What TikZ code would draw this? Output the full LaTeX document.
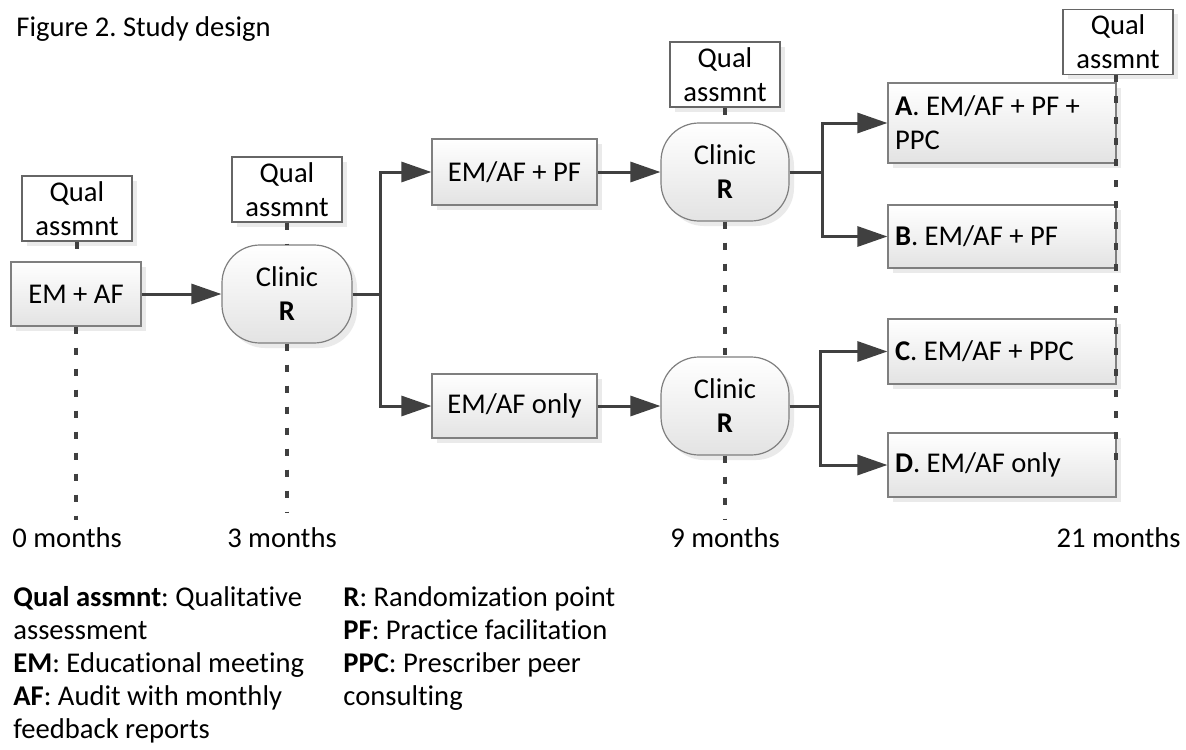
\documentclass[tikz,border=0pt]{standalone}
\usepackage{fontspec}
\setmainfont{Carlito}[Ligatures=NoCommon]
\usetikzlibrary{arrows.meta,shadows}
\definecolor{edge}{HTML}{404040}
\definecolor{bord}{HTML}{7F7F7F}
\tikzset{
  box/.style={draw=bord, line width=0.6pt, top color=white, bottom color=black!11,
    drop shadow={shadow xshift=2.5pt, shadow yshift=-2.5pt, opacity=0.16},
    inner sep=0pt, align=center},
  qbox/.style={box, top color=white, bottom color=white, draw=black!60,
    minimum width=55pt, minimum height=32.5pt},
  clinic/.style={box, rounded corners=19pt, minimum width=65pt, minimum height=49pt},
  armbox/.style={box, align=flush left, text width=107pt, inner xsep=3.5pt, inner ysep=0pt},
  arr/.style={draw=edge, line width=1.5pt, -{Triangle[length=15pt,width=10pt]}},
  tl/.style={draw=edge, line width=1.6pt, dash pattern=on 3.5pt off 7pt},
  lbl/.style={inner sep=0pt},
  legend/.style={lbl, anchor=north west, align=left, font=\fontsize{14.3}{16.5}\selectfont\frenchspacing},
}
\begin{document}
\frenchspacing
\begin{tikzpicture}[x=0.5pt,y=-0.5pt,
  every node/.append style={font=\fontsize{14.3}{17}\selectfont\frenchspacing}]
\useasboundingbox (0,0) rectangle (1186,749);
\fill[white] (0,0) rectangle (1186,749);

\node[lbl, anchor=west] (title) at (16,29) {Figure 2. Study design};

% timeline 0
\node[qbox] (q1) at (77,208.5) {Qual\\assmnt};
\node[box, minimum width=65pt, minimum height=32pt] (em) at (76,294) {EM + AF};
% timeline 3
\node[qbox] (q2) at (287,189.5) {Qual\\assmnt};
\node[clinic] (c1) at (287,294) {Clinic\\\textbf{R}};
% middle arms
\node[box, minimum width=82.5pt, minimum height=33pt] (pf) at (514.5,172) {EM/AF + PF};
\node[box, minimum width=82.5pt, minimum height=32pt] (only) at (514.5,406) {EM/AF only};
% timeline 9
\node[qbox] (q3) at (725,74.5) {Qual\\assmnt};
\node[clinic, minimum width=64pt] (c2) at (725,172) {Clinic\\\textbf{R}};
\node[clinic, minimum width=64pt] (c3) at (725,406) {Clinic\\\textbf{R}};
% final arms
\node[qbox] (q4) at (1118,42) {Qual\\assmnt};
\node[armbox, minimum height=40pt] (A) at (1002,123) {\textbf{A}. EM/AF + PF +\\PPC};
\node[armbox, minimum height=31.5pt] (B) at (1002,236.5) {\textbf{B}. EM/AF + PF};
\node[armbox, minimum height=32.5pt] (C) at (1002,351.5) {\textbf{C}. EM/AF + PPC};
\node[armbox, minimum height=32pt] (D) at (1002,465) {\textbf{D}. EM/AF only};

% time coordinates
\coordinate (t0) at (76,520);
\coordinate (t3) at (287,512);
\coordinate (t9) at (725,520);
\coordinate (t21) at (1116,470);

% dotted timelines
\draw[tl] (q1.south) -- (q1.south |- em.north);
\draw[tl] (em.south) -- (em.south |- t0);
\draw[tl] (q2.south) -- (c1.north);
\draw[tl] (c1.south) -- (t3);
\draw[tl] (q3.south) -- (c2.north);
\draw[tl] (c2.south) -- (c3.north);
\draw[tl] (c3.south) -- (t9);
\draw[tl] (t21 |- q4.south) -- (t21);

% arrows
\draw[arr] (em.east) -- (c1.west);
\draw[arr] (c1.east) -- ++(28,0) |- (pf.west);
\draw[arr] (c1.east) -- ++(28,0) |- (only.west);
\draw[arr] (pf.east) -- (c2.west);
\draw[arr] (only.east) -- (c3.west);
\draw[arr] (c2.east) -- ++(33,0) |- (A.west);
\draw[arr] (c2.east) -- ++(33,0) |- (B.west);
\draw[arr] (c3.east) -- ++(31,0) |- (C.west);
\draw[arr] (c3.east) -- ++(31,0) |- (D.west);

% time labels
\node[lbl, anchor=west] (m0) at (12,538) {0 months};
\node[lbl] (m3) at (282,538) {3 months};
\node[lbl] (m9) at (725,538) {9 months};
\node[lbl, anchor=east] (m21) at (1181,538) {21 months};

% legend
\node[legend] (leg1) at (13,586)
  {\textbf{Qual assmnt}: Qualitative\\assessment\\\textbf{EM}: Educational meeting\\\textbf{AF}: Audit with monthly\\feedback reports};
\node[legend] (leg2) at (343,586)
  {\textbf{R}: Randomization point\\\textbf{PF}: Practice facilitation\\\textbf{PPC}: Prescriber peer\\consulting};
\end{tikzpicture}
\end{document}
